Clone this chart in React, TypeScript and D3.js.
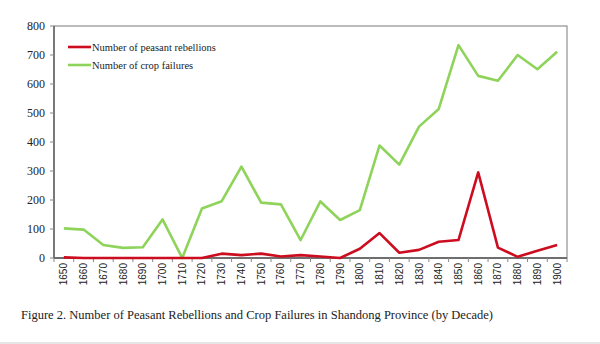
import React from "react";
import * as d3 from "d3";

const decades = [1650,1660,1670,1680,1690,1700,1710,1720,1730,1740,1750,1760,1770,1780,1790,1800,1810,1820,1830,1840,1850,1860,1870,1880,1890,1900].map(String);
const rebellions = [2,0,0,0,0,0,0,0,15,10,15,5,10,5,0,32,86,18,28,56,62,295,36,4,25,45];
const cropFailures = [102,98,45,35,37,133,0,171,196,315,191,185,62,195,131,165,388,322,453,514,734,628,611,700,651,711];
const yTicks = [0,100,200,300,400,500,600,700,800];
const seriesNames = ["Number of peasant rebellions", "Number of crop failures"];
const caption = "Figure 2. Number of Peasant Rebellions and Crop Failures in Shandong Province (by Decade)";

const RED = "#cc0d1f";
const GREEN = "#8ed35a";

export default function App() {
  const W = 600, H = 344;
  const left = 54, right = 567, top = 26, bottom = 258;
  const x = d3.scaleBand<string>().domain(decades).range([left, right]);
  const y = d3.scaleLinear().domain([0, 800]).range([bottom, top]);
  const cx = (d: string) => (x(d) as number) + x.bandwidth() / 2;
  const line = d3.line<number>().x((_, i) => cx(decades[i])).y(v => y(v));
  const tickXs = d3.range(decades.length + 1).map(i => left + i * x.step());
  const serif = "'Liberation Serif', 'Times New Roman', serif";
  const sans = "'Liberation Sans Narrow', 'Liberation Sans', Arial, sans-serif";
  return (
    <svg width={W} height={H} style={{ position: "absolute", left: 0, top: 0, background: "#fff" }}>
      <rect x={0} y={0} width={W} height={H} fill="#fff" />
      <rect x={left} y={top} width={right - left} height={bottom - top} fill="none" stroke="#7a7a7a" strokeWidth={1} />
      <line x1={left} x2={left} y1={top} y2={bottom} stroke="#555" strokeWidth={1.3} />
      <line x1={left} x2={right} y1={bottom} y2={bottom} stroke="#555" strokeWidth={1.3} />
      {yTicks.map(t => (
        <g key={t}>
          <line x1={left - 4} x2={left} y1={y(t)} y2={y(t)} stroke="#888" />
          <text x={left - 9} y={y(t)} dy="0.35em" textAnchor="end" fontFamily={serif} fontSize={12} fill="#222">{t}</text>
        </g>
      ))}
      {tickXs.map((tx, i) => (
        <line key={i} x1={tx} x2={tx} y1={bottom} y2={bottom + 4} stroke="#888" />
      ))}
      {decades.map(d => (
        <text key={d} transform={`translate(${cx(d)},${bottom + 5}) rotate(-90)`} dy="0.35em" textAnchor="end" fontFamily={sans} fontSize={10} fill="#222">{d}</text>
      ))}
      <path d={line(cropFailures) || ""} fill="none" stroke={GREEN} strokeWidth={2.6} strokeLinejoin="round" />
      <path d={line(rebellions) || ""} fill="none" stroke={RED} strokeWidth={2.6} strokeLinejoin="round" />
      {seriesNames.map((n, i) => (
        <g key={n} transform={`translate(68,${47 + i * 18})`}>
          <line x1={0} x2={23} y1={0} y2={0} stroke={i === 0 ? RED : GREEN} strokeWidth={2.6} />
          <text x={24} y={0} dy="0.35em" fontFamily={serif} fontSize={10.5} fill="#222">{n}</text>
        </g>
      ))}
      <text x={257} y={314} dy="0.35em" textAnchor="middle" fontFamily={serif} fontSize={13.5} fill="#222" textLength={472} lengthAdjust="spacingAndGlyphs">{caption}</text>
      <line x1={0} x2={W} y1={343} y2={343} stroke="#e6e6e6" strokeWidth={2} />
    </svg>
  );
}
